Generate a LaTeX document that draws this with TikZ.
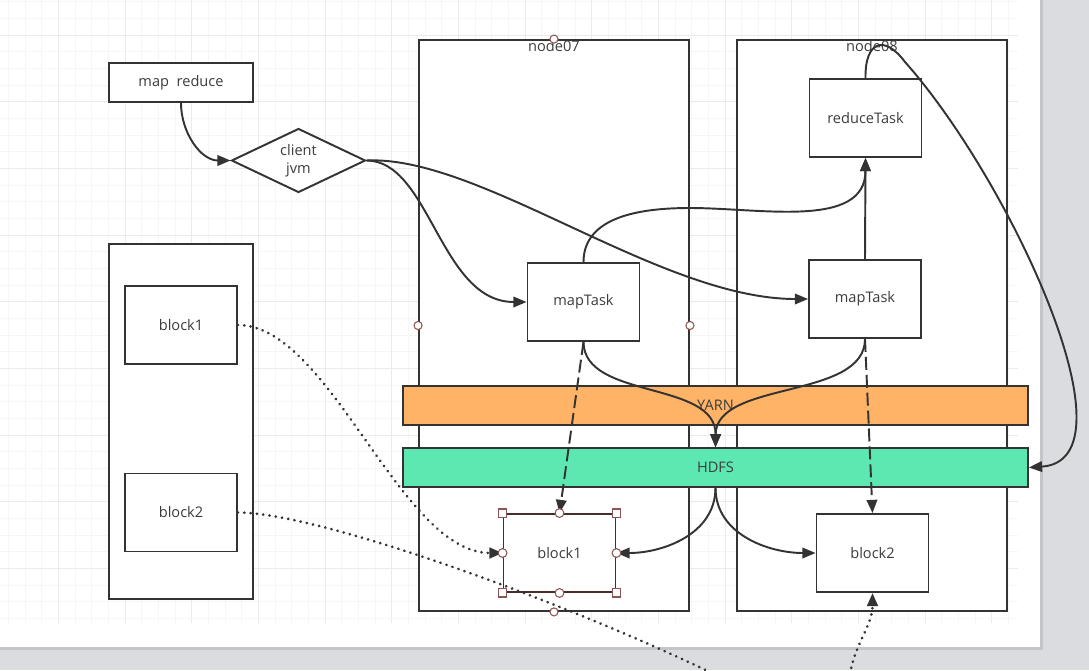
\documentclass[tikz,border=0pt]{standalone}
\usepackage{fontspec}
\setmainfont{Open Sans}
\usetikzlibrary{shapes.geometric,arrows.meta}

\definecolor{linegray}{HTML}{333333}
\definecolor{textgray}{HTML}{3C3C3C}
\definecolor{yarnorange}{HTML}{FFB366}
\definecolor{hdfsgreen}{HTML}{5DE8B1}
\definecolor{deskgray}{HTML}{DBDCE0}
\definecolor{pageshadow}{HTML}{C4C5C9}
\definecolor{gridminor}{HTML}{F7F5F5}
\definecolor{gridmajor}{HTML}{EDEAEA}
\definecolor{pickdark}{HTML}{4A2C2C}
\definecolor{pickred}{HTML}{8E5454}

\newcommand\tasksize{\fontsize{8.3}{10.2}\selectfont}

\tikzset{
  box/.style={draw=linegray,line width=1.1pt,fill=white,minimum width=2.24cm,minimum height=1.56cm,
    inner sep=0pt,text=textgray,font=\tasksize},
  host/.style={draw=linegray,line width=1.1pt,fill=white,minimum width=5.4cm,minimum height=11.42cm,inner sep=0pt},
  band/.style={draw=linegray,line width=1.1pt,minimum width=12.5cm,minimum height=0.77cm,
    inner sep=0pt,text=textgray,font=\tasksize},
  flow/.style={draw=linegray,line width=1.1pt,-{Triangle[length=7.5pt,width=6pt]}},
  copyline/.style={flow,dash pattern=on 7.4pt off 2.8pt},
  readline/.style={flow,line width=1.7pt,line cap=round,dash pattern=on 0.01pt off 3.6pt},
  pickline/.style={draw=pickred,line width=0.6pt,fill=white},
  pickcorner/.style={pickline,minimum size=4.6pt,inner sep=0pt}
}

\begin{document}
\begin{tikzpicture}[x=0.02cm,y=0.02cm]
\useasboundingbox (0,0) rectangle (1089,-670);

% desk, page and grid
\fill[deskgray] (0,0) rectangle (1089,-670);
\fill[pageshadow] (0,0) rectangle (1043,-650);
\fill[white] (0,0) rectangle (1040,-647);
\foreach \k in {0,...,60}
  \draw[gridminor,line width=0.5pt] ({8.33+16.667*\k},0) -- ({8.33+16.667*\k},-623);
\foreach \k in {0,...,37}
  \draw[gridminor,line width=0.5pt] (0,{-1.67-16.667*\k}) -- (1018,{-1.67-16.667*\k});
\foreach \k in {0,...,14}
  \draw[gridmajor,line width=0.5pt] ({58.33+66.667*\k},0) -- ({58.33+66.667*\k},-623);
\foreach \k in {0,...,8}
  \draw[gridmajor,line width=0.5pt] (0,{-35-66.667*\k}) -- (1018,{-35-66.667*\k});

% client side
\node[box,minimum width=2.88cm,minimum height=0.78cm] (mr) at (181,-82.5) {map\ \ reduce};
\node[diamond,draw=linegray,line width=1.1pt,fill=white,aspect=2,inner sep=0pt,
      minimum width=2.68cm,minimum height=1.28cm,align=center,text=textgray,font=\tasksize]
      (client) at (298.5,-160.5) {client\\jvm};

\node[host,minimum width=2.88cm,minimum height=7.1cm] (store) at (181,-421.5) {};
\node[box] (src1) at (181,-325) {block1};
\node[box] (src2) at (181,-512.5) {block2};

% hosts
\node[host,label={[anchor=north,inner sep=0.5pt,text=textgray,font=\tasksize]north:node07}] (node07) at (554,-325.5) {};
\node[host,label={[anchor=north,inner sep=0.5pt,text=textgray,font=\tasksize]north:node08}] (node08) at (872,-325.5) {};

\node[box] (reduce) at (865.5,-118) {reduceTask};
\node[box] (map07) at (583.5,-302) {mapTask};
\node[box] (map08) at (865,-299) {mapTask};

\node[band,fill=yarnorange] (yarn) at (715.5,-405.5) {YARN};
\node[band,fill=hdfsgreen] (hdfs) at (715.5,-467.5) {HDFS};

\node[box,draw=pickdark] (blk1) at (559.5,-553) {block1};
\node[box] (blk2) at (872.5,-553) {block2};

\coordinate (off1) at (714,-674);
\coordinate (off2) at (850,-674);

% connectors
\draw[flow] (mr.south) to[out=-90,in=180] (client.west);
\draw[flow] (client.east) .. controls (430,-160.5) and (440,-302) .. (map07.west);
\draw[flow] (client.east) .. controls (480,-155) and (660,-299) .. (map08.west);
\draw[flow] (map07.north) to[out=90,in=180] (690,-208) to[out=0,in=-90] (reduce.south);
\draw[flow] (map08.north) -- (reduce.south);
\draw[flow] (map07.south) .. controls (584,-400) and (716,-380) .. (hdfs.north);
\draw[flow] (map08.south) .. controls (865,-400) and (716,-380) .. (hdfs.north);
\draw[copyline] (map07.south) -- (blk1.north);
\draw[copyline] (map08.south) -- (blk2.north);
\draw[flow] (hdfs.south) to[out=-90,in=0] (blk1.east);
\draw[flow] (hdfs.south) to[out=-90,in=180] (blk2.west);
\draw[flow] (reduce.north) .. controls (865,-40) and (885,-35) .. (905,-62)
   .. controls (1010,-180) and (1140,-460) .. (hdfs.east);
\draw[readline] (src1.east) .. controls (330,-325) and (400,-553) .. (blk1.west);
\draw[readline,-] (src2.east) .. controls (320,-513) and (560,-600) .. (off1);
\draw[readline] (off2) to[out=80,in=-90] (blk2.south);

% selection handles
\foreach \a in {north,south,east,west}
  \draw[pickline] (node07.\a) circle (2.3pt);
\foreach \a in {north,south,east,west}
  \draw[pickline] (blk1.\a) circle (2.5pt);
\foreach \a in {north west,north east,south west,south east}
  \node[pickcorner,name=pick \a] at (blk1.\a) {};

\end{tikzpicture}
\end{document}
